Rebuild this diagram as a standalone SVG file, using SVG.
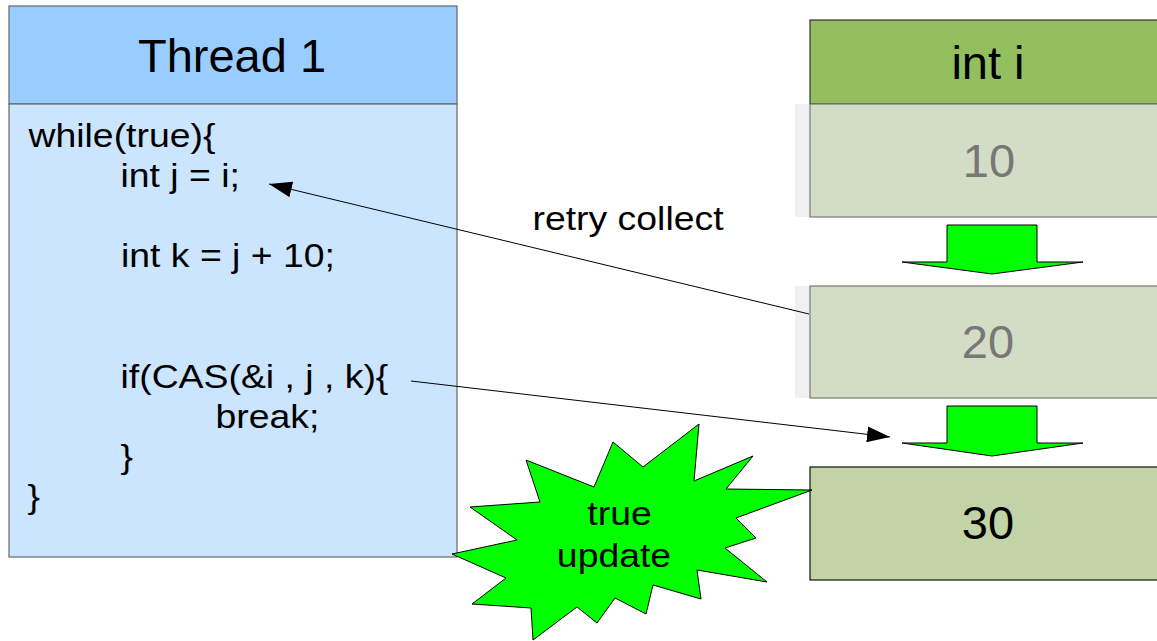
<svg xmlns="http://www.w3.org/2000/svg" width="1157" height="641" viewBox="0 0 1157 641">
  <style>
    text { font-family: "Liberation Sans", Arial, sans-serif; fill: #000; }
    .title { font-size: 47px; text-anchor: middle; }
    .code { font-size: 32.5px; }
    .mid { text-anchor: middle; }
    .num { font-size: 47px; text-anchor: middle; }
    .old { fill: #777; }
    .conn { fill: none; stroke: #000; stroke-width: 1; }
    .burst { fill: #00ff00; stroke: #000; stroke-width: 1; stroke-linejoin: miter; }
    .step { fill: #00ff00; stroke: #000; stroke-width: 1; }
    .shade { fill: #f0f0f0; }
    .cell { fill: #d3dcc4; stroke: #777; stroke-width: 1.2; }
  </style>
  <defs>
    <marker id="head" markerUnits="userSpaceOnUse" markerWidth="24" markerHeight="16" refX="23" refY="8" orient="auto">
      <path d="M0,0 L23,8 L0,16 z" fill="#000"/>
    </marker>
  </defs>

  <rect x="0" y="0" width="1157" height="641" fill="#fff"/>

  <!-- thread column -->
  <g id="thread1">
    <rect x="9" y="6" width="448" height="98" fill="#99ccff" stroke="#666" stroke-width="1.2"/>
    <rect x="9" y="104" width="448" height="453" fill="#cce5ff" stroke="#666" stroke-width="1.2"/>
    <text class="title" x="232" y="72">Thread 1</text>
    <text class="code" transform="translate(28.5 146.5) scale(1.15 1)">while(true){</text>
    <text class="code" transform="translate(120.5 186.5) scale(1.15 1)">int j = i;</text>
    <text class="code" transform="translate(121 267) scale(1.15 1)">int k = j + 10;</text>
    <text class="code" transform="translate(120.5 387.5) scale(1.15 1)">if(CAS(&amp;i , j , k){</text>
    <text class="code" transform="translate(215.5 428) scale(1.15 1)">break;</text>
    <text class="code" transform="translate(120.5 468) scale(1.15 1)">}</text>
    <text class="code" transform="translate(27.5 508) scale(1.15 1)">}</text>
  </g>

  <!-- variable column -->
  <g id="var-header">
    <rect x="810" y="20" width="360" height="84" fill="#93bf5f" stroke="#333" stroke-width="1.2"/>
    <text class="title" x="988" y="79">int i</text>
  </g>
  <g id="value-10">
    <rect class="shade" x="795" y="104" width="15" height="113"/>
    <rect class="cell" x="810" y="104" width="360" height="113"/>
    <text class="num old" x="989" y="177">10</text>
  </g>
  <g id="value-20">
    <rect class="shade" x="795" y="286" width="15" height="112"/>
    <rect class="cell" x="810" y="286" width="360" height="112"/>
    <text class="num old" x="988" y="358">20</text>
  </g>
  <g id="value-30">
    <rect x="810" y="467" width="360" height="113" fill="#c2d4a6" stroke="#111" stroke-width="1.2"/>
    <text class="num" x="988" y="539">30</text>
  </g>

  <!-- transition arrows between values -->
  <g id="step-10-20">
    <path class="step" d="M947,225 L1037,225 L1037,262 L1083,262 L992,274 L902,262 L947,262 z"/>
  </g>
  <g id="step-20-30">
    <path class="step" d="M947,406 L1037,406 L1037,443 L1083,443 L992,456 L902,443 L947,443 z"/>
  </g>

  <!-- connectors -->
  <g id="connectors">
    <line class="conn" x1="809" y1="314" x2="269" y2="184" marker-end="url(#head)"/>
    <line class="conn" x1="411" y1="381" x2="890" y2="437" marker-end="url(#head)"/>
    <text class="code" transform="translate(532.5 230) scale(1.15 1)">retry collect</text>
  </g>

  <!-- starburst callout -->
  <g id="true-update">
    <path class="burst" d="M699,424 L694,481 L753,456 L726,489 L812,490 L736,518 L756,538 L725,548 L767,582 L697,570 L701,599 L653,585 L646,614 L615,598 L597,623 L577,607 L533,640 L531,608 L472,604 L506,578 L452,554 L517,540 L470,507 L540,502 L526,460 L594,487 L613,442 L643,467 z"/>
    <text class="code mid" transform="translate(619.5 525) scale(1.15 1)">true</text>
    <text class="code mid" transform="translate(614 567) scale(1.15 1)">update</text>
  </g>
</svg>
